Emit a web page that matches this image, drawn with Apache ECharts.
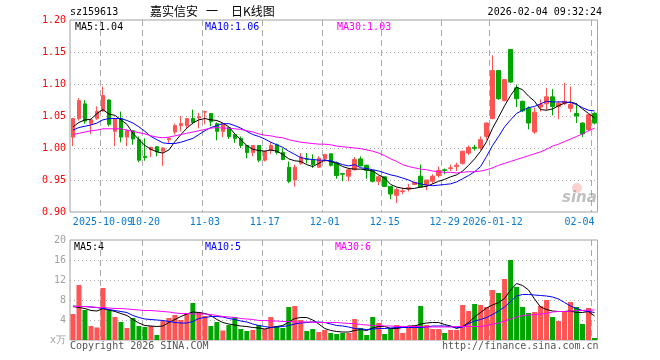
<!DOCTYPE html>
<html>
<head>
<meta charset="utf-8">
<script src="https://cdn.jsdelivr.net/npm/echarts@6/dist/echarts.min.js"></script>
<style>html,body{margin:0;padding:0;background:#fff}#c{width:660px;height:360px}</style>
</head>
<body>
<div id="c"></div>
<script>
const dates = [
'2025-09-24','2025-09-25','2025-09-26','2025-09-29','2025-09-30',
'2025-10-09','2025-10-10','2025-10-13','2025-10-14','2025-10-15','2025-10-16','2025-10-17','2025-10-20','2025-10-21','2025-10-22','2025-10-23','2025-10-24','2025-10-27','2025-10-28','2025-10-29','2025-10-30','2025-10-31',
'2025-11-03','2025-11-04','2025-11-05','2025-11-06','2025-11-07','2025-11-10','2025-11-11','2025-11-12','2025-11-13','2025-11-14','2025-11-17','2025-11-18','2025-11-19','2025-11-20','2025-11-21','2025-11-24','2025-11-25','2025-11-26','2025-11-27','2025-11-28',
'2025-12-01','2025-12-02','2025-12-03','2025-12-04','2025-12-05','2025-12-08','2025-12-09','2025-12-10','2025-12-11','2025-12-12','2025-12-15','2025-12-16','2025-12-17','2025-12-18','2025-12-19','2025-12-22','2025-12-23','2025-12-24','2025-12-25','2025-12-26','2025-12-29','2025-12-30','2025-12-31',
'2026-01-05','2026-01-06','2026-01-07','2026-01-08','2026-01-09','2026-01-12','2026-01-13','2026-01-14','2026-01-15','2026-01-16','2026-01-19','2026-01-20','2026-01-21','2026-01-22','2026-01-23','2026-01-26','2026-01-27','2026-01-28','2026-01-29','2026-01-30',
'2026-02-02','2026-02-03','2026-02-04'];

const openP = [1.017,1.046,1.069,1.038,1.046,1.058,1.075,1.026,1.046,1.017,1.027,1.013,0.987,0.997,1.002,0.995,1.013,1.025,1.035,1.035,1.046,1.047,1.056,1.054,1.038,
1.026,1.032,1.021,1.015,1.004,0.993,1.004,0.981,0.996,1.005,0.993,0.970,0.950,0.976,0.983,0.982,0.970,0.983,0.991,0.977,0.960,0.956,0.966,
0.983,0.973,0.965,0.948,0.955,0.940,0.926,0.932,0.936,0.943,0.956,0.942,0.948,0.957,0.966,0.968,0.971,0.976,0.992,1.001,1.000,1.018,1.046,1.121,
1.074,1.154,1.094,1.073,1.062,1.025,1.064,1.069,1.080,1.065,1.070,1.062,1.054,1.039,1.029,1.054];
const closeP = [1.046,1.074,1.042,1.044,1.057,1.082,1.037,1.046,1.017,1.027,1.014,0.981,0.985,1.001,0.994,1.000,1.015,1.035,1.038,1.046,1.040,1.049,1.057,1.041,1.026,
1.038,1.018,1.015,1.004,0.993,1.004,0.981,0.995,1.004,0.993,0.982,0.948,0.970,0.986,0.982,0.974,0.984,0.990,0.973,0.957,0.959,0.966,0.982,
0.972,0.965,0.948,0.955,0.940,0.928,0.935,0.933,0.938,0.946,0.939,0.950,0.956,0.965,0.965,0.969,0.973,0.995,1.001,0.9995,1.013,1.039,1.121,1.077,
1.107,1.103,1.077,1.058,1.039,1.056,1.068,1.080,1.065,1.070,1.073,1.068,1.050,1.022,1.052,1.039];
const lowP = [1.003,1.043,1.038,1.022,1.044,1.057,1.034,1.003,1.009,1.003,1.005,0.978,0.980,0.986,0.987,0.972,1.008,1.021,1.026,1.031,1.037,1.031,1.037,1.034,1.012,
1.017,1.014,1.008,1.000,0.984,0.987,0.978,0.979,0.991,0.990,0.981,0.945,0.940,0.974,0.976,0.969,0.969,0.978,0.971,0.952,0.948,0.948,0.965,
0.971,0.952,0.946,0.942,0.939,0.920,0.914,0.928,0.932,0.942,0.938,0.934,0.944,0.954,0.959,0.964,0.964,0.974,0.989,0.996,0.997,1.013,1.045,1.075,
1.073,1.102,1.064,1.056,1.029,1.022,1.057,1.059,1.051,1.045,1.067,1.056,1.039,1.017,1.026,1.037];
const highP = [1.047,1.078,1.075,1.045,1.065,1.096,1.076,1.047,1.057,1.029,1.028,1.018,1.015,1.002,1.003,1.001,1.017,1.038,1.050,1.047,1.060,1.055,1.058,1.054,1.040,
1.039,1.033,1.022,1.018,1.004,1.004,1.004,0.995,1.009,1.007,0.9995,0.979,0.974,0.992,0.992,0.990,0.987,0.990,0.991,0.979,0.960,0.969,0.986,
0.987,0.974,0.965,0.957,0.955,0.940,0.938,0.938,0.944,0.947,0.974,0.950,0.959,0.971,0.968,0.974,0.977,0.995,1.004,1.005,1.018,1.040,1.145,1.121,
1.107,1.154,1.099,1.074,1.065,1.063,1.076,1.094,1.092,1.073,1.102,1.096,1.070,1.040,1.053,1.056];

const ma5 = [1.033,1.040,1.044,1.045,1.054,1.060,1.053,1.051,1.044,1.037,1.023,1.013,1.004,0.998,0.994,0.992,0.997,1.010,1.021,1.031,1.039,1.044,1.046,1.044,1.043,
1.039,1.033,1.022,1.013,1.004,0.998,0.996,0.995,0.997,0.995,0.990,0.983,0.980,0.979,0.974,0.971,0.976,0.981,0.979,0.976,0.971,0.968,0.967,
0.967,0.966,0.964,0.958,0.953,0.943,0.939,0.937,0.936,0.937,0.939,0.940,0.944,0.948,0.951,0.955,0.958,0.964,0.973,0.983,0.995,1.010,1.031,1.048,
1.066,1.082,1.095,1.091,1.081,1.073,1.060,1.059,1.061,1.066,1.070,1.072,1.069,1.061,1.054,1.047];
const ma10 = [1.028,1.032,1.034,1.036,1.039,1.044,1.046,1.046,1.046,1.043,1.039,1.033,1.026,1.018,1.013,1.008,1.007,1.007,1.009,1.012,1.015,1.021,1.027,1.032,1.035,
1.038,1.038,1.035,1.031,1.026,1.021,1.018,1.014,1.009,1.005,1.001,0.995,0.990,0.985,0.983,0.982,0.981,0.981,0.980,0.977,0.974,0.972,0.974,
0.969,0.968,0.966,0.964,0.961,0.958,0.956,0.953,0.950,0.946,0.944,0.942,0.941,0.942,0.943,0.944,0.947,0.952,0.957,0.963,0.971,0.987,1.004,1.018,
1.033,1.044,1.054,1.059,1.063,1.065,1.069,1.073,1.072,1.072,1.072,1.071,1.068,1.063,1.059,1.058];
const ma30 = [1.021,1.023,1.025,1.027,1.028,1.030,1.030,1.030,1.030,1.028,1.026,1.024,1.022,1.019,1.017,1.016,1.017,1.019,1.021,1.023,1.025,1.027,1.029,1.031,1.032,
1.031,1.031,1.030,1.029,1.027,1.025,1.022,1.020,1.019,1.017,1.016,1.013,1.011,1.009,1.008,1.007,1.006,1.006,1.005,1.003,1.002,1.001,1.000,
0.999,0.997,0.995,0.992,0.988,0.983,0.979,0.974,0.971,0.969,0.967,0.966,0.964,0.963,0.962,0.962,0.961,0.962,0.963,0.963,0.964,0.966,0.969,0.973,
0.976,0.979,0.982,0.985,0.988,0.991,0.994,0.998,1.003,1.006,1.010,1.014,1.018,1.022,1.027,1.031];

const volume = [5.2,11.0,6.0,2.8,2.5,10.4,6.0,4.6,3.6,2.4,4.4,2.8,2.6,2.8,1.0,3.8,4.4,5.0,4.0,5.4,
7.4,5.6,4.8,2.8,3.6,1.9,3.0,4.6,2.2,1.8,2.0,3.0,2.2,4.6,2.8,2.4,6.6,6.8,4.0,1.8,
2.2,1.6,2.0,1.4,1.2,1.4,1.4,4.2,2.4,1.0,4.6,3.4,1.2,2.4,3.0,1.4,2.4,3.0,6.8,3.0,
2.2,2.2,1.4,2.0,2.0,7.0,5.8,7.2,7.0,6.6,10.0,9.4,12.2,16.0,10.6,6.6,5.4,5.6,6.8,8.0,
4.6,3.8,5.6,7.6,6.6,3.2,6.4,0.4];
const vma5 = [6.7,6.5,6.3,5.9,5.8,6.3,6.0,5.7,5.3,4.9,4.1,3.4,2.9,2.8,2.7,2.8,3.5,4.1,4.7,5.2,5.6,5.5,5.3,4.9,4.1,3.5,3.2,3.0,2.8,2.7,
2.5,2.4,2.2,2.5,2.7,2.9,3.6,4.3,4.5,4.5,4.0,3.2,2.3,1.9,1.7,1.6,1.6,1.9,2.1,1.9,2.4,2.7,2.7,2.3,2.3,2.5,2.8,2.8,3.2,3.4,3.5,3.5,3.1,2.8,
2.3,2.7,3.5,4.6,5.5,6.4,7.0,7.5,8.3,10.0,11.3,10.9,10.0,8.2,6.6,6.1,5.8,5.7,5.7,5.8,5.5,5.5,5.7,4.8];
const vma10 = [6.8,6.7,6.7,6.6,6.5,6.3,6.1,5.9,5.7,5.5,4.9,4.5,4.2,4.1,4.0,3.9,3.7,3.5,3.4,3.4,3.7,4.3,4.5,4.7,4.7,4.6,4.3,4.1,3.8,3.6,
3.2,2.9,2.7,2.5,2.6,2.7,2.9,3.2,3.4,3.5,3.6,3.6,3.5,3.2,2.9,2.8,2.6,2.3,2.2,2.1,2.2,2.3,2.3,2.4,2.5,2.5,2.5,2.5,2.5,2.6,2.8,2.8,2.8,2.7,
2.5,2.6,3.3,3.8,4.1,4.5,5.1,5.8,6.6,7.7,8.8,9.1,9.1,9.0,8.9,8.8,8.6,8.2,7.5,6.8,6.3,5.9,5.7,5.5];
const vma30 = [6.7,6.7,6.7,6.6,6.5,6.5,6.4,6.3,6.3,6.2,6.1,6.0,5.9,5.9,5.8,5.7,5.6,5.4,5.3,5.3,5.2,5.2,5.2,5.1,4.9,4.7,4.6,4.5,4.3,4.2,
4.1,3.9,3.9,3.8,3.8,3.7,3.7,3.6,3.6,3.6,3.6,3.5,3.5,3.5,3.5,3.4,3.3,3.3,3.1,3.0,2.9,2.9,2.8,2.8,2.7,2.7,2.7,2.7,2.7,2.6,2.6,2.6,2.6,2.6,
2.7,2.7,2.7,2.7,2.7,2.9,3.2,3.4,3.8,4.2,4.6,4.9,5.0,5.1,5.2,5.3,5.6,5.7,5.7,5.8,5.9,5.9,6.0,6.0];

const tickDates = ['2025-10-09','2025-10-20','2025-11-03','2025-11-17','2025-12-01','2025-12-15','2025-12-29','2026-01-12','2026-02-04'];
const tickLabels = ['2025-10-09','10-20','11-03','11-17','12-01','12-15','12-29','2026-01-12','02-04'];
const priceMin = 0.90, priceMax = 1.20, priceStep = 0.05;
const volMin = 0, volMax = 20, volStep = 4;
const volUnit = 'x万';
const priceLegend = ['MA5:1.04','MA10:1.06','MA30:1.03'];
const volLegend = ['MA5:4','MA10:5','MA30:6'];
const codeText = 'sz159613';
const titleParts = ['嘉实信安', '一', '日K线图'];
const timeText = '2026-02-04 09:32:24';

const UP = '#ff5454', DOWN = '#00a600';
const MONO = 'DejaVu Sans Mono';
const labelMap = {};
tickDates.forEach((d, k) => { labelMap[d] = tickLabels[k]; });
const isTick = (i, v) => labelMap[dates[i]] !== undefined;

const kData = dates.map((d, i) => [openP[i], closeP[i], lowP[i], highP[i]]);
const vData = volume.map((v, i) => ({ value: v, itemStyle: { color: closeP[i] >= openP[i] ? UP : DOWN } }));

const GL = 70, GW = 527.5;
const xBase = (gi, showLabel) => ({
  type: 'category', gridIndex: gi, data: dates, boundaryGap: true,
  axisLine: { show: false }, axisTick: { show: false },
  axisLabel: showLabel ? {
    interval: 0, formatter: (v) => labelMap[v] || '', hideOverlap: false,
    color: '#0a7bd0', fontFamily: MONO, fontSize: 10, margin: 5,
    alignMaxLabel: 'right'
  } : { show: false },
  splitLine: { show: true, interval: isTick, lineStyle: { color: '#aaaaaa', type: [6, 4], width: 1 } }
});

const chart = echarts.init(document.getElementById('c'), null, { renderer: 'canvas' });
chart.setOption({
  animation: false,
  backgroundColor: '#ffffff',
  grid: [
    { left: GL, top: 20, width: GW, height: 192, show: true, borderColor: '#a0a0a0', borderWidth: 1, backgroundColor: 'transparent' },
    { left: GL, top: 240, width: GW, height: 100, show: true, borderColor: '#a0a0a0', borderWidth: 1, backgroundColor: 'transparent' }
  ],
  xAxis: [xBase(0, true), xBase(1, false)],
  yAxis: [
    { type: 'value', gridIndex: 0, min: priceMin, max: priceMax, interval: priceStep, scale: true,
      axisLine: { show: false }, axisTick: { show: false },
      axisLabel: { color: '#ff0000', fontFamily: MONO, fontSize: 10, margin: 4, formatter: v => v.toFixed(2) },
      splitLine: { show: true, showMinLine: false, showMaxLine: false, lineStyle: { color: '#aaaaaa', type: [1, 3] } } },
    { type: 'value', gridIndex: 1, min: volMin, max: volMax, interval: volStep,
      axisLine: { show: false }, axisTick: { show: false },
      axisLabel: { color: '#a0a0a0', fontFamily: MONO, fontSize: 10, margin: 4, formatter: v => v === 0 ? volUnit : String(v) },
      splitLine: { show: true, showMinLine: false, showMaxLine: false, lineStyle: { color: '#aaaaaa', type: [1, 3] } } }
  ],
  series: [
    { type: 'candlestick', xAxisIndex: 0, yAxisIndex: 0, data: kData, barWidth: 4,
      itemStyle: { color: UP, color0: DOWN, borderColor: UP, borderColor0: DOWN, borderWidth: 1 } },
    { type: 'line', data: ma5, xAxisIndex: 0, yAxisIndex: 0, showSymbol: false, lineStyle: { color: '#000000', width: 1 }, z: 5 },
    { type: 'line', data: ma10, xAxisIndex: 0, yAxisIndex: 0, showSymbol: false, lineStyle: { color: '#0000ff', width: 1 }, z: 5 },
    { type: 'line', data: ma30, xAxisIndex: 0, yAxisIndex: 0, showSymbol: false, lineStyle: { color: '#ff00ff', width: 1 }, z: 5 },
    { type: 'bar', data: vData, xAxisIndex: 1, yAxisIndex: 1, barWidth: 5 },
    { type: 'line', data: vma5, xAxisIndex: 1, yAxisIndex: 1, showSymbol: false, lineStyle: { color: '#000000', width: 1 }, z: 5 },
    { type: 'line', data: vma10, xAxisIndex: 1, yAxisIndex: 1, showSymbol: false, lineStyle: { color: '#0000ff', width: 1 }, z: 5 },
    { type: 'line', data: vma30, xAxisIndex: 1, yAxisIndex: 1, showSymbol: false, lineStyle: { color: '#ff00ff', width: 1 }, z: 5 }
  ],
  graphic: [
    { type: 'text', left: 70, top: 7, style: { text: codeText, fill: '#000', font: '10px "DejaVu Sans Mono"' } },
    { type: 'text', left: 150, top: 5, style: { text: titleParts[0], fill: '#000', font: '12px "Noto Sans CJK SC"' } },
    { type: 'text', left: 206, top: 5, style: { text: titleParts[1], fill: '#000', font: '12px "Noto Sans CJK SC"' } },
    { type: 'text', left: 231, top: 5, style: { text: titleParts[2], fill: '#000', font: '12px "Noto Sans CJK SC"' } },
    { type: 'text', right: 58, top: 7, style: { text: timeText, fill: '#000', font: '10px "DejaVu Sans Mono"' } },
    { type: 'text', left: 75, top: 22, style: { text: priceLegend[0], fill: '#000000', font: '10px "DejaVu Sans Mono"' } },
    { type: 'text', left: 205, top: 22, style: { text: priceLegend[1], fill: '#0000ff', font: '10px "DejaVu Sans Mono"' } },
    { type: 'text', left: 337, top: 22, style: { text: priceLegend[2], fill: '#ff00ff', font: '10px "DejaVu Sans Mono"' } },
    { type: 'text', left: 74, top: 242, style: { text: volLegend[0], fill: '#000000', font: '10px "DejaVu Sans Mono"' } },
    { type: 'text', left: 205, top: 242, style: { text: volLegend[1], fill: '#0000ff', font: '10px "DejaVu Sans Mono"' } },
    { type: 'text', left: 335, top: 242, style: { text: volLegend[2], fill: '#ff00ff', font: '10px "DejaVu Sans Mono"' } },
    { type: 'text', left: 70, top: 341, style: { text: 'Copyright 2026 SINA.COM', fill: '#555', font: '10px "DejaVu Sans Mono"' } },
    { type: 'text', left: 442, top: 341, style: { text: 'http://finance.sina.com.cn', fill: '#555', font: '10px "DejaVu Sans Mono"' } },
    { type: 'circle', shape: { cx: 577, cy: 188, r: 5 }, style: { fill: 'rgba(240,120,120,0.35)' }, z: 1 },
    { type: 'text', left: 562, top: 191, style: { text: 'sina', fill: 'rgba(150,150,150,0.6)', font: 'italic bold 15px "DejaVu Sans"' }, z: 1 }
  ]
});
</script>
</body>
</html>
